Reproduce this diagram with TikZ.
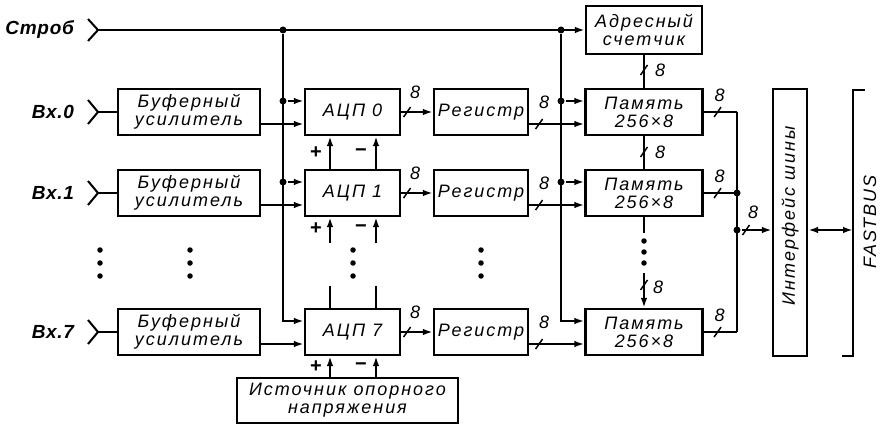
\documentclass[tikz,border=0pt]{standalone}
\usepackage{fontspec}
\setmainfont{Liberation Sans}
\usetikzlibrary{arrows.meta,calc}
\newcommand{\boxtxt}{\fontsize{18}{18}\selectfont\itshape\addfontfeature{LetterSpace=11}}
\newcommand{\numtxt}{\fontsize{18}{18}\selectfont\itshape}
\newcommand{\intxt}{\fontsize{19}{19}\selectfont\bfseries\itshape\addfontfeature{LetterSpace=4}}
\newcommand{\sgntxt}{\fontsize{20}{20}\selectfont\bfseries}
\begin{document}
\begin{tikzpicture}[x=1pt,y=-1pt,line width=2pt,
  >={Latex[length=10pt,width=6.5pt]},
  box/.style={draw,line width=2.2pt,inner sep=0pt,align=center,font=\boxtxt},
  bufbox/.style={box,minimum width=142pt,minimum height=46pt},
  adcbox/.style={box,minimum width=95pt,minimum height=46pt},
  regbox/.style={box,minimum width=94pt,minimum height=46pt},
  membox/.style={box,minimum width=117pt,minimum height=46pt},
  num/.style={font=\numtxt,inner sep=0pt},
  inlab/.style={font=\intxt,inner sep=0pt,anchor=east},
  sgn/.style={font=\sgntxt,inner sep=0pt},
  sl/.pic={\draw[line width=1.5pt] (-3.5,5) -- (3.5,-5);},
  jd/.style={circle,fill,inner sep=0pt,minimum size=7pt},
  ed/.style={circle,fill,inner sep=0pt,minimum size=5.5pt}]
\fill[white] (0,0) rectangle (881,425);
\useasboundingbox (0,0) rectangle (881,425);

% strobe
\node[inlab] (strob) at (75,30) {Строб};
\coordinate (sin) at (98,30);
\draw (88,19) -- (sin) -- (88,41);
\node[box,minimum width=116pt,minimum height=48pt] (cnt) at (644,30) {Адресный\\счетчик};
\draw[->] (sin) -- (cnt.west);
\node[jd] (j1) at (283,30) {};
\node[jd] (j2) at (561,30) {};

% rows
\foreach \r/\c/\lbl in {0/112/{Вх.0},1/193/{Вх.1},7/332/{Вх.7}} {
  \node[inlab] (lbl\r) at (75,\c) {\lbl};
  \coordinate (in\r) at (98,\c);
  \draw (88,\c-12) -- (in\r) -- (88,\c+12);
  \node[bufbox] (buf\r) at (189,\c) {Буферный\\усилитель};
  \node[adcbox] (adc\r) at (352.5,\c) {АЦП \r};
  \node[regbox] (reg\r) at (481,\c) {Регистр};
  \node[membox] (mem\r) at (644,\c) {Память\\256×8};
  \draw (in\r) -- (buf\r.west);
  \draw[->] ($(buf\r.east)+(0,12)$) -- ($(adc\r.west)+(0,12)$);
  \draw[->] (adc\r.east) -- (reg\r.west);
  \pic at ($(adc\r.east)+(6,0)$) {sl};
  \node[num] at ($(adc\r.east)+(14,-20)$) {8};
  \draw[->] ($(reg\r.east)+(0,12)$) -- ($(mem\r.west)+(0,12)$);
  \pic at ($(reg\r.east)+(10,12)$) {sl};
  \node[num] at ($(reg\r.east)+(15,-10)$) {8};
  \draw (mem\r.east) -- (737,\c);
  \pic at ($(mem\r.east)+(14,0)$) {sl};
  \node[num] at ($(mem\r.east)+(16,-17)$) {8};
}

% strobe verticals and branches
\draw[->] (j1) |- ($(adc7.west)+(0,-11)$);
\draw[->] (j2) |- ($(mem7.west)+(0,-11)$);
\foreach \r/\c in {0/101,1/182} {
  \node[jd] (ja\r) at (283,\c) {};
  \node[jd] (jm\r) at (561,\c) {};
  \draw[->] (ja\r) -- ($(adc\r.west)+(0,-11)$);
  \draw[->] (jm\r) -- ($(mem\r.west)+(0,-11)$);
}

% reference voltage connections
\draw[->] ($(adc1.north)+(-22.5,0)$) -- ($(adc0.south)+(-22.5,0)$);
\draw[->] ($(adc1.north)+(23.5,0)$) -- ($(adc0.south)+(23.5,0)$);
\node[sgn] at (316,153) {+};
\node[sgn] at (361,153) {−};
\draw[->] ($(adc1.south)+(-22.5,26)$) -- ($(adc1.south)+(-22.5,0)$);
\draw[->] ($(adc1.south)+(23.5,26)$) -- ($(adc1.south)+(23.5,0)$);
\node[sgn] at (316,229) {+};
\node[sgn] at (361,229) {−};
\draw ($(adc7.north)+(-22.5,-22)$) -- ($(adc7.north)+(-22.5,0)$);
\draw ($(adc7.north)+(23.5,-22)$) -- ($(adc7.north)+(23.5,0)$);
\node[box,minimum width=221pt,minimum height=45pt] (src) at (347.5,400.5) {Источник опорного\\напряжения};
\coordinate (p7) at ($(adc7.south)+(-22.5,0)$);
\coordinate (m7) at ($(adc7.south)+(23.5,0)$);
\draw[->] (p7 |- src.north) -- (p7);
\draw[->] (m7 |- src.north) -- (m7);
\node[sgn] at (316,367) {+};
\node[sgn] at (361,367) {−};

% ellipsis dots
\foreach \x in {100,190,353,481} {
  \foreach \y in {250,263,276} { \node[ed] at (\x,\y) {}; }
}

% memory address chain
\draw (cnt.south) -- (mem0.north);
\pic at (644,70) {sl};
\node[num] at (660,70) {8};
\draw (mem0.south) -- (mem1.north);
\pic at (644,152) {sl};
\node[num] at (660,152) {8};
\coordinate (mc1) at (644,233);
\coordinate (mc2) at (644,273);
\draw (mem1.south) -- (mc1);
\foreach \y in {241,252,263} { \node[ed] at (644,\y) {}; }
\draw[->] (mc2) -- (mem7.north);
\pic at (644,285) {sl};
\node[num] at (658,287) {8};

% output bus
\node[box,minimum width=34pt,minimum height=267pt] (iface) at (790,222.5) {};
\node[font=\boxtxt,rotate=90,inner sep=0pt] (ifacetxt) at (790,216) {Интерфейс шины};
\draw (737,112) -- (737,332);
\node[jd] (b1) at (737,193) {};
\node[jd] (bj) at (737,230) {};
\draw[->] (bj) -- (iface.west |- bj);
\pic at (746,230) {sl};
\node[num] at (753,212) {8};
\coordinate (fb) at (853,230);
\draw[<->] (iface.east |- bj) -- (fb);
\draw (865,90) -- (853,90) -- (853,356) -- (842,356);
\node[font=\fontsize{18}{18}\selectfont\itshape\addfontfeature{LetterSpace=10},rotate=90,inner sep=0pt] (fbtxt) at (870,222) {FASTBUS};
\end{tikzpicture}
\end{document}
